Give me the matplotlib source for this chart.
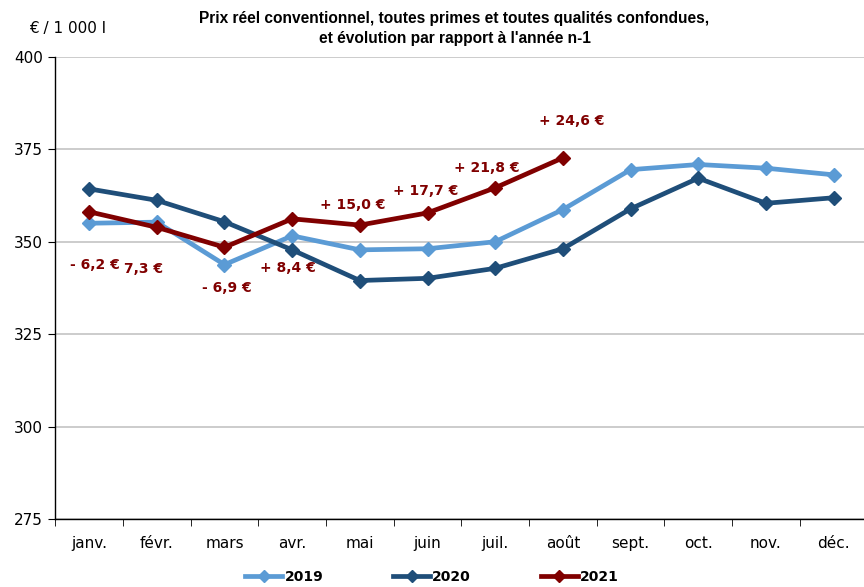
import matplotlib.pyplot as plt
from matplotlib.lines import Line2D

plt.rcParams['font.family'] = ['DejaVu Sans']

months = ["janv.", "févr.", "mars", "avr.", "mai", "juin",
          "juil.", "août", "sept.", "oct.", "nov.", "déc."]

prix_2019 = [355.0, 355.3, 343.8, 351.6, 347.8, 348.1, 350.0, 358.7, 369.5, 370.9, 369.9, 368.1]
prix_2020 = [364.3, 361.2, 355.4, 347.8, 339.5, 340.1, 342.8, 348.1, 358.9, 367.2, 360.4, 361.9]
prix_2021 = [358.1, 353.9, 348.5, 356.2, 354.5, 357.8, 364.6, 372.7]

# étiquettes d'évolution 2021 vs 2020 (position x, y en unités du graphique)
evol_txt = ["- 6,2 €", "7,3 €", "- 6,9 €", "+ 8,4 €", "+ 15,0 €", "+ 17,7 €", "+ 21,8 €", "+ 24,6 €"]
evol_x = [0.09, 0.81, 2.04, 2.93, 3.9, 4.97, 5.88, 7.13]
evol_y = [343.7, 342.6, 337.5, 342.9, 360.0, 363.8, 369.9, 382.8]

c2019 = "#5b9bd5"
c2020 = "#1f4e79"
c2021 = "#800000"

fig = plt.figure(figsize=(8.64, 5.87), dpi=100)
ax = fig.add_axes([0.064, 0.116, 0.94, 0.787])

x = list(range(len(months)))
style = dict(linewidth=3.4, marker="D", markersize=7, solid_joinstyle="miter")
ax.plot(x, prix_2019, color=c2019, label="2019", zorder=3, **style)
ax.plot(x, prix_2020, color=c2020, label="2020", zorder=4, **style)
ax.plot(x[:len(prix_2021)], prix_2021, color=c2021, label="2021", zorder=5, **style)

for t, xx, yy in zip(evol_txt, evol_x, evol_y):
    ax.text(xx, yy, t, color=c2021, fontsize=10, fontweight="bold",
            ha="center", va="center", zorder=6)

ax.set_xlim(-0.5, 11.5)
ax.set_ylim(275, 400)
ax.set_yticks([275, 300, 325, 350, 375, 400])
ax.set_xticks(x)
ax.set_xticklabels(months)
ax.set_xticks([i + 0.5 for i in range(-1, 12)], minor=True)
ax.tick_params(axis="x", which="major", length=0, pad=12, labelsize=11)
ax.tick_params(axis="x", which="minor", length=5, direction="out")
ax.tick_params(axis="y", length=5, direction="out", labelsize=11, pad=4)

ax.grid(axis="y", color="#c8c8c8", linewidth=1.3, zorder=0)
ax.set_axisbelow(True)
for s in ["top", "right"]:
    ax.spines[s].set_visible(False)
ax.spines["left"].set_linewidth(1.0)
ax.spines["bottom"].set_linewidth(1.0)

fig.text(0.078, 0.951, "€ / 1 000 l", fontsize=11, ha="center", va="center")
fig.text(0.526, 0.951, "Prix réel conventionnel, toutes primes et toutes qualités confondues,\n"
         "et évolution par rapport à l'année n-1",
         fontsize=11.2, fontweight="bold", ha="center", va="center", linespacing=1.4,
         family="Liberation Sans")

handles = [Line2D([], [], color=c, linewidth=3.4, marker="D", markersize=6) for c in (c2019, c2020, c2021)]
fig.legend(handles, ["2019", "2020", "2021"], loc="center", bbox_to_anchor=(0.5, 0.017),
           ncol=3, frameon=False, handlelength=2.7, handletextpad=0.15, columnspacing=5.0,
           borderpad=0, prop={"weight": "bold", "size": 10})

fig.savefig("out.png", dpi=100)
